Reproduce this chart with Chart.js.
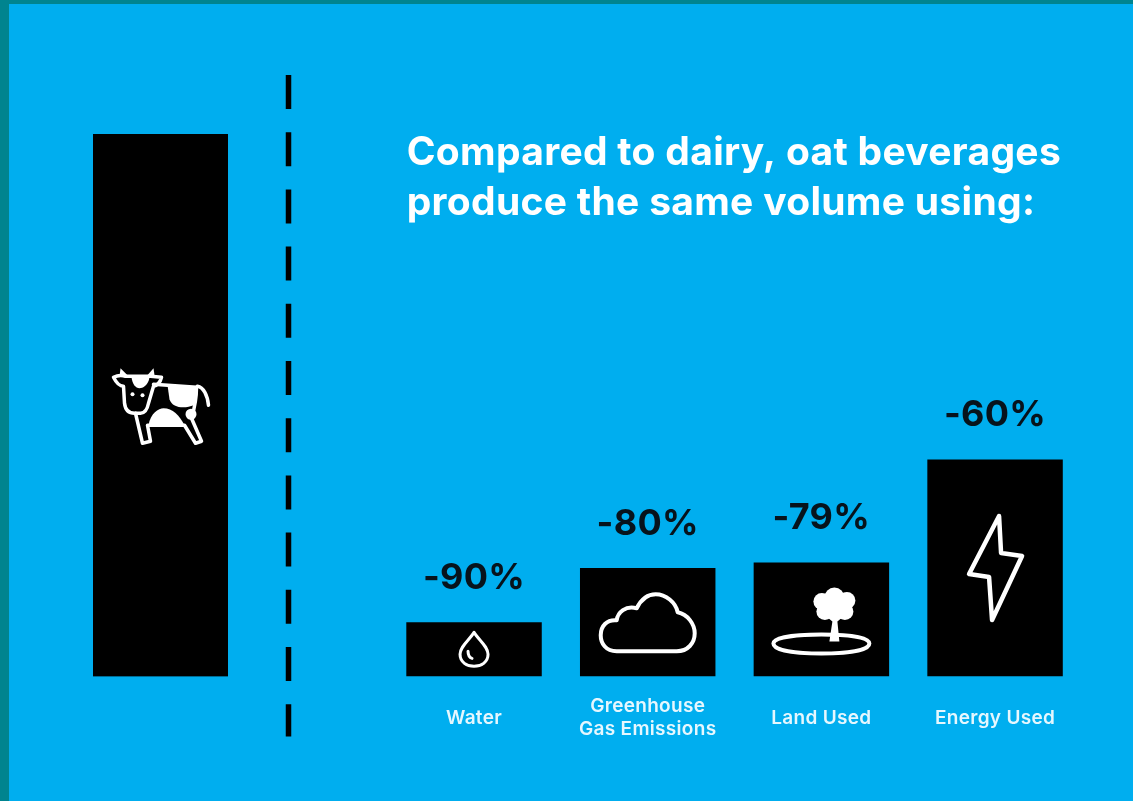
<!DOCTYPE html>
<html>
<head>
<meta charset="utf-8">
<title>Oat beverages compared to dairy</title>
<script src="https://cdn.jsdelivr.net/npm/chart.js@4"></script>
<style>
  html, body { margin: 0; padding: 0; width: 1133px; height: 801px; overflow: hidden; background: #00848f; }
  #panel { position: absolute; left: 9px; top: 4px; right: 0; bottom: 0; background: #00aeef; }
  canvas { position: absolute; top: 0; }
  #dairyChart { left: 0; }
  #oatChart { left: 380px; }
</style>
</head>
<body>
<div id="panel"></div>
<canvas id="dairyChart" width="380" height="801"></canvas>
<canvas id="oatChart" width="753" height="801"></canvas>

<script>
// values are the share of the dairy footprint, dairy itself = 100
var dairyCategories = ["Dairy"];
var dairyValues = [100];

var oatCategories = ["Water", ["Greenhouse", "Gas Emissions"], "Land Used", "Energy Used"];
var oatValues = [10, 20, 21, 40];
var changeLabels = ["-90%", "-80%", "-79%", "-60%"];

var titleLines = ["Compared to dairy, oat beverages", "produce the same volume using:"];

var FONT = "Inter, sans-serif";
var WHITE = "#ffffff";
var BLACK = "#000000";

// icons are drawn around the middle of their bar
var cowIcon = {
  lines: [
    "M-47 -28 C-43 -30 -38 -30 -35 -29 L-15 -29 L-10 -29 L1 -28 C0 -24 -3 -20 -7 -19 L-12 -2 C-13 3 -15 8 -20 8 L-26 8 C-30 8 -35 6 -36 -2 L-37 -19 C-41 -19 -44 -22 -47 -28 Z",
    "M-7 -21 L36 -18",
    "M37 -19 C43 -18 47 -10 48 0",
    "M36 -18 C36 -8 34 3 31 13 L41 36 L35 38 L24 20 L-13 20 L-10 36 L-18 38 L-25 8"
  ],
  fills: [
    "M-41 -29 L-40 -37 L-31 -28 Z",
    "M-14 -29 L-7 -37 L-6 -30 Z",
    "M-29 -28 L-11 -28 C-12 -20 -18 -17 -21 -17 C-25 -17 -28 -21 -29 -28 Z",
    "M-12 20 C-10 8 -2 3 3 3 C12 3 19 10 24 20 Z",
    "M7 -20 L36 -18 C36 -8 35 -2 33 0 C26 3 12 4 9 -6 Z",
    "M25 9 A5.5 5.5 0 1 0 36 9 A5.5 5.5 0 1 0 25 9 Z",
    "M-30 -11 A2 2 0 1 0 -26 -11 A2 2 0 1 0 -30 -11 Z",
    "M-20 -10 A2 2 0 1 0 -16 -10 A2 2 0 1 0 -20 -10 Z"
  ],
  width: 3.5
};
var dropIcon = {
  lines: [
    "M0 -17 C5 -9 14 -3 14 5 C14 13 7 17 0 17 C-7 17 -14 13 -14 5 C-14 -3 -5 -9 0 -17 Z",
    "M-6 2 Q-6 8 -2 9"
  ],
  fills: [],
  width: 3
};
var cloudIcon = {
  lines: ["M-31 29 C-42 29 -47 21 -47 13 C-47 4 -41 -3 -31 -2 C-30 -10 -22 -17 -11 -14 C-6 -24 1 -28 8 -28 C18 -28 28 -20 30 -10 C40 -8 47 2 47 11 C47 21 40 29 29 29 Z"],
  fills: [],
  width: 4
};
var treeIcon = {
  lines: ["M-48 24 C-48 17 -20 15 0 15 C25 15 48 17 48 24 C48 31 25 34 0 34 C-25 34 -48 31 -48 24 Z"],
  fills: [
    "M-8 -18 A8.5 8.5 0 1 0 9 -18 A8.5 8.5 0 1 0 -8 -18 Z",
    "M3 -22 A10 10 0 1 0 23 -22 A10 10 0 1 0 3 -22 Z",
    "M17 -19 A8.5 8.5 0 1 0 34 -19 A8.5 8.5 0 1 0 17 -19 Z",
    "M-5 -8 A8.5 8.5 0 1 0 12 -8 A8.5 8.5 0 1 0 -5 -8 Z",
    "M15 -8 A8.5 8.5 0 1 0 32 -8 A8.5 8.5 0 1 0 15 -8 Z",
    "M0 -14 A14 14 0 1 0 28 -14 A14 14 0 1 0 0 -14 Z",
    "M8 22 L11 2 L5 -3 L22 -3 L16 2 L18 22 Z"
  ],
  width: 4
};
var boltIcon = {
  lines: ["M4 -52 L-26 6 L-6 9 L-3 52 L27 -12 L6 -15 Z"],
  fills: [],
  width: 4.5
};

function drawIcon(ctx, icon, x, y) {
  ctx.save();
  ctx.translate(x, y);
  ctx.strokeStyle = WHITE;
  ctx.fillStyle = WHITE;
  ctx.lineWidth = icon.width;
  ctx.lineJoin = "round";
  ctx.lineCap = "round";
  icon.lines.forEach(function (d) { ctx.stroke(new Path2D(d)); });
  icon.fills.forEach(function (d) { ctx.fill(new Path2D(d)); });
  ctx.restore();
}

function iconPlugin(icons) {
  return {
    id: "barIcons",
    afterDatasetsDraw: function (chart) {
      chart.getDatasetMeta(0).data.forEach(function (bar, i) {
        drawIcon(chart.ctx, icons[i], bar.x, (bar.y + bar.base) / 2);
      });
    }
  };
}

// the -90% text above each bar
var changeLabelPlugin = {
  id: "changeLabels",
  afterDatasetsDraw: function (chart) {
    var ctx = chart.ctx;
    ctx.save();
    ctx.font = "700 36px " + FONT;
    ctx.fillStyle = "#07131c";
    ctx.textAlign = "center";
    ctx.textBaseline = "middle";
    chart.getDatasetMeta(0).data.forEach(function (bar, i) {
      ctx.fillText(changeLabels[i], bar.x, bar.y - 44);
    });
    ctx.restore();
  }
};

// dashed divider right of the dairy bar
var dividerPlugin = {
  id: "divider",
  afterDraw: function (chart) {
    var ctx = chart.ctx;
    var area = chart.chartArea;
    ctx.save();
    ctx.strokeStyle = BLACK;
    ctx.lineWidth = 5.5;
    ctx.setLineDash([34, 23.2]);
    ctx.beginPath();
    ctx.moveTo(area.right + 60.5, area.top - 59);
    ctx.lineTo(area.right + 60.5, area.bottom + 60);
    ctx.stroke();
    ctx.restore();
  }
};

// the title starts at the first bar, not at the edge of the first slot
var titleIndentPlugin = {
  id: "titleIndent",
  afterLayout: function (chart) {
    chart.titleBlock.left = chart.chartArea.left + 19.5;
  },
  beforeDraw: function (chart) {
    chart.ctx.letterSpacing = "0.3px";
  }
};

function yScale(max) {
  return { display: false, min: 0, max: max };
}

new Chart(document.getElementById("dairyChart"), {
  type: "bar",
  data: {
    labels: dairyCategories,
    datasets: [{ data: dairyValues, backgroundColor: BLACK, barPercentage: 1, categoryPercentage: 1 }]
  },
  options: {
    responsive: false,
    animation: false,
    layout: { padding: { left: 93, right: 152, top: 134, bottom: 124.5 } },
    plugins: { legend: { display: false }, tooltip: { enabled: false } },
    scales: { x: { display: false }, y: yScale(100) }
  },
  plugins: [iconPlugin([cowIcon]), dividerPlugin]
});

new Chart(document.getElementById("oatChart"), {
  type: "bar",
  data: {
    labels: oatCategories,
    datasets: [{ data: oatValues, backgroundColor: BLACK, barPercentage: 0.78, categoryPercentage: 1 }]
  },
  options: {
    responsive: false,
    animation: false,
    layout: { padding: { left: 7.2, right: 51.1 } },
    plugins: {
      legend: { display: false },
      tooltip: { enabled: false },
      title: {
        display: true,
        text: titleLines,
        align: "start",
        color: WHITE,
        font: { family: FONT, size: 39, weight: "700", lineHeight: 1.282 },
        padding: { top: 128, bottom: 177.25 }
      }
    },
    scales: {
      x: {
        grid: { display: false },
        border: { display: false },
        afterFit: function (scale) { scale.height = 124.5; },
        ticks: {
          color: "#e6f7fe",
          padding: 22,
          maxRotation: 0,
          autoSkip: false,
          crossAlign: "center",
          font: { family: FONT, size: 19, weight: "600", lineHeight: 1.21 }
        }
      },
      y: yScale(50)
    }
  },
  plugins: [iconPlugin([dropIcon, cloudIcon, treeIcon, boltIcon]), changeLabelPlugin, titleIndentPlugin]
});
</script>
</body>
</html>
